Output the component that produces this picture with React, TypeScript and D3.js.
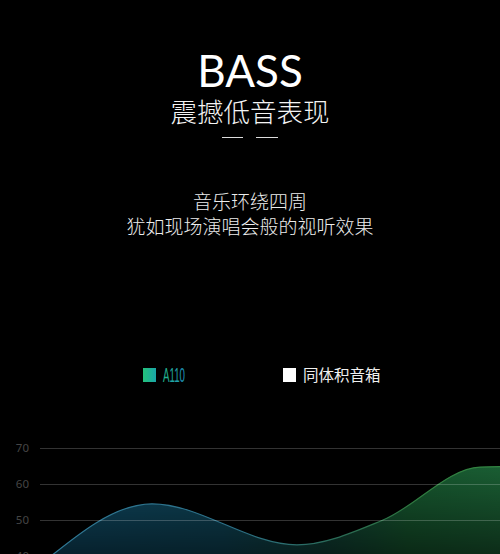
import React, { useEffect, useRef } from 'react';
import * as d3 from 'd3';

// curve: x position in steps of 10px from the axis, dB value
const freqSteps = [0, 11.2, 25.7, 34.3, 44, 46];
const levels = [37.5, 54.5, 43.1, 50, 64.7, 64.8];
const yTicks = [40, 50, 60, 70];
const legendItems = ['A110', '同体积音箱'];
const headline = 'BASS';
const subline = '震撼低音表现';
const bodyLines = ['音乐环绕四周', '犹如现场演唱会般的视听效果'];

const W = 500;
const H = 554;
const CJK = '"Noto Sans CJK SC", "Noto Sans", sans-serif';

const App: React.FC = () => {
  const svgRef = useRef<SVGSVGElement>(null);

  useEffect(() => {
    if (!svgRef.current) return;
    const svg = d3.select(svgRef.current);
    svg.selectAll('*').remove();
    svg.attr('width', W).attr('height', H);

    const defs = svg.append('defs');

    const hGrad = defs.append('linearGradient').attr('id', 'areaH')
      .attr('gradientUnits', 'userSpaceOnUse').attr('x1', 40).attr('x2', 500).attr('y1', 0).attr('y2', 0);
    hGrad.append('stop').attr('offset', '0%').attr('stop-color', '#0f4a66');
    hGrad.append('stop').attr('offset', '40%').attr('stop-color', '#0f4659');
    hGrad.append('stop').attr('offset', '62%').attr('stop-color', '#12443a');
    hGrad.append('stop').attr('offset', '80%').attr('stop-color', '#175a30');
    hGrad.append('stop').attr('offset', '100%').attr('stop-color', '#1b6135');

    const sGrad = defs.append('linearGradient').attr('id', 'strokeH')
      .attr('gradientUnits', 'userSpaceOnUse').attr('x1', 40).attr('x2', 500).attr('y1', 0).attr('y2', 0);
    sGrad.append('stop').attr('offset', '0%').attr('stop-color', '#2f7895');
    sGrad.append('stop').attr('offset', '42%').attr('stop-color', '#2c7088');
    sGrad.append('stop').attr('offset', '65%').attr('stop-color', '#2a6a55');
    sGrad.append('stop').attr('offset', '82%').attr('stop-color', '#2f7a3f');
    sGrad.append('stop').attr('offset', '100%').attr('stop-color', '#338542');

    const fade = defs.append('linearGradient').attr('id', 'fadeV')
      .attr('gradientUnits', 'userSpaceOnUse').attr('x1', 0).attr('x2', 0).attr('y1', 460).attr('y2', 556);
    fade.append('stop').attr('offset', '0%').attr('stop-color', '#fff').attr('stop-opacity', 1);
    fade.append('stop').attr('offset', '100%').attr('stop-color', '#fff').attr('stop-opacity', 0.45);
    defs.append('mask').attr('id', 'fadeMask')
      .append('rect').attr('x', 0).attr('y', 400).attr('width', W).attr('height', 160).attr('fill', 'url(#fadeV)');

    const legGrad = defs.append('linearGradient').attr('id', 'legG').attr('x1', 0).attr('x2', 1).attr('y1', 0).attr('y2', 0);
    legGrad.append('stop').attr('offset', '0%').attr('stop-color', '#24c27a');
    legGrad.append('stop').attr('offset', '100%').attr('stop-color', '#1aa6a8');
    const txtGrad = defs.append('linearGradient').attr('id', 'txtG').attr('x1', 0).attr('x2', 1).attr('y1', 0).attr('y2', 0);
    txtGrad.append('stop').attr('offset', '0%').attr('stop-color', '#22b98a');
    txtGrad.append('stop').attr('offset', '100%').attr('stop-color', '#1d8fc0');

    svg.append('rect').attr('width', W).attr('height', H).attr('fill', '#000');

    // titles
    svg.append('text').attr('x', 250).attr('y', 87).attr('text-anchor', 'middle')
      .attr('fill', '#fff').attr('font-family', 'Lato, "Open Sans", sans-serif').attr('font-weight', 400)
      .attr('font-size', 44).text(headline);
    svg.append('text').attr('x', 250).attr('y', 122).attr('text-anchor', 'middle')
      .attr('fill', '#f4f4f4').attr('font-family', CJK).attr('font-weight', 300)
      .attr('font-size', 26.5).text(subline);
    [[222, 243], [256, 278]].forEach(([a, b]) => {
      svg.append('line').attr('x1', a).attr('x2', b).attr('y1', 137.5).attr('y2', 137.5)
        .attr('stroke', '#ddd').attr('stroke-width', 1);
    });
    bodyLines.forEach((t, i) => {
      svg.append('text').attr('x', 250).attr('y', 209 + i * 25).attr('text-anchor', 'middle')
        .attr('fill', '#ececec').attr('font-family', CJK).attr('font-weight', 300)
        .attr('font-size', 19).text(t);
    });

    // legend
    svg.append('rect').attr('x', 143).attr('y', 368).attr('width', 13).attr('height', 14).attr('fill', 'url(#legG)');
    svg.append('text').attr('transform', 'translate(163,382) scale(0.5,1)').attr('fill', 'url(#txtG)')
      .attr('font-family', '"Liberation Sans", Arial, sans-serif').attr('font-size', 19.5)
      .text(legendItems[0]);
    svg.append('rect').attr('x', 283).attr('y', 368).attr('width', 13).attr('height', 14).attr('fill', '#fff');
    svg.append('text').attr('x', 303).attr('y', 381).attr('fill', '#f0f0f0')
      .attr('font-family', CJK).attr('font-size', 15.5).text(legendItems[1]);

    // chart
    const x = d3.scaleLinear().domain([0, 46]).range([40, 500]);
    const y = d3.scaleLinear().domain([40, 70]).range([556, 448]);
    const pts = freqSteps.map((f, i) => [f, levels[i]] as [number, number]);

    const area = d3.area<[number, number]>()
      .x(d => x(d[0])).y0(y(30)).y1(d => y(d[1])).curve(d3.curveMonotoneX);
    const line = d3.line<[number, number]>()
      .x(d => x(d[0])).y(d => y(d[1])).curve(d3.curveMonotoneX);

    svg.append('path').attr('d', area(pts) || '').attr('fill', 'url(#areaH)').attr('mask', 'url(#fadeMask)');
    svg.append('path').attr('d', line(pts) || '').attr('fill', 'none')
      .attr('stroke', 'url(#strokeH)').attr('stroke-width', 1.2);

    const grid = svg.append('g');
    yTicks.forEach(t => {
      grid.append('line').attr('x1', 40).attr('x2', 500).attr('y1', y(t) + 0.5).attr('y2', y(t) + 0.5)
        .attr('stroke', '#fff').attr('stroke-opacity', 0.2).attr('stroke-width', 1);
      grid.append('text').attr('x', 29).attr('y', y(t) + 1).attr('text-anchor', 'end')
        .attr('dominant-baseline', 'middle').attr('fill', '#454545')
        .attr('font-family', '"Noto Sans", sans-serif').attr('font-size', 11.5).text(String(t));
    });
  }, []);

  return (
    <svg ref={svgRef} style={{ position: 'absolute', left: 0, top: 0, display: 'block', background: '#000' }} />
  );
};

export default App;
